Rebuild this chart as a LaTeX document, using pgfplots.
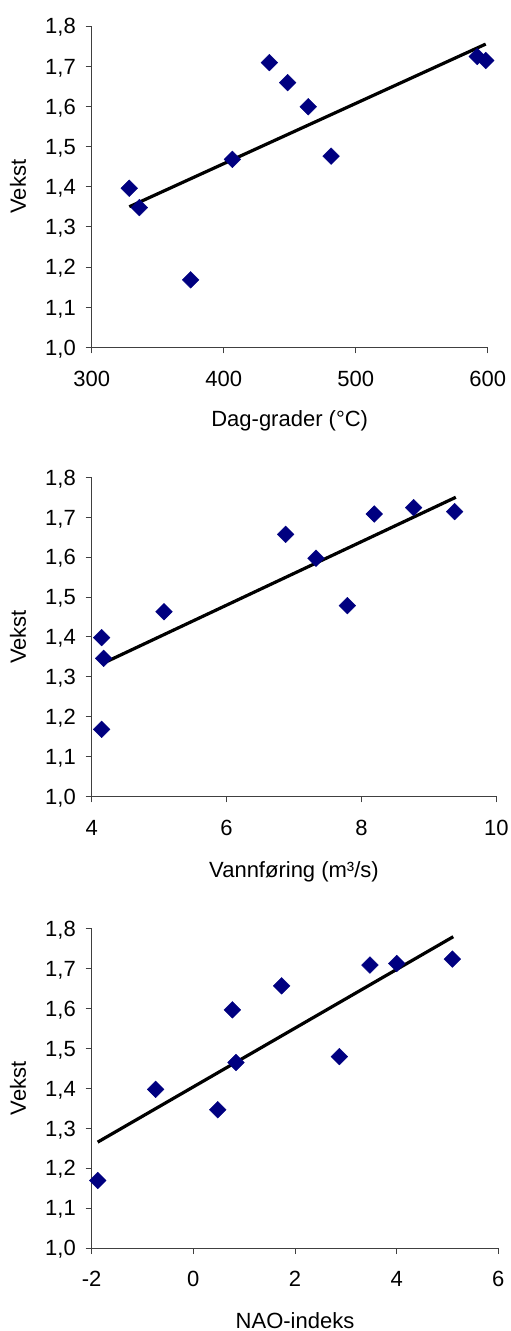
\documentclass[border=0pt]{standalone}
\usepackage{fontspec}
\setmainfont{Liberation Sans}
\usepackage{pgfplots}
\pgfplotsset{compat=1.18}
\definecolor{navy}{HTML}{000080}

\pgfplotsset{
  vekst/.style={
    scale only axis, anchor=south west, clip=false,
    axis lines=left, axis line style={-, line width=0.8pt, black!75},
    tick align=outside, major tick length=6pt,
    tick style={line width=0.8pt, black!75},
    ymin=1.0, ymax=1.8,
    ytick={1.0,1.1,1.2,1.3,1.4,1.5,1.6,1.7,1.8},
    yticklabels={{1,0},{1,1},{1,2},{1,3},{1,4},{1,5},{1,6},{1,7},{1,8}},
    tick label style={font=\fontsize{22}{26}\selectfont, inner sep=0pt},
    yticklabel style={anchor=base east, xshift=-9.7pt, yshift=-7.9pt},
    xticklabel style={anchor=north, yshift=-17.4pt},
    label style={font=\fontsize{22}{26}\selectfont},
    ylabel={Vekst},
  },
  pts/.style={only marks, mark=square*, mark size=5.9pt,
    mark options={rotate=45, fill=navy, draw=navy}},
  trend/.style={line width=3.2pt, black},
}

\begin{document}
\begin{tikzpicture}
\useasboundingbox (0,0) rectangle (511pt,-1331pt);

% Dag-grader
\begin{axis}[vekst, at={(91.7pt,-347.3pt)}, width=396pt, height=321.3pt,
  xmin=300, xmax=600, xtick={300,400,500,600}, xticklabels={300,400,500,600},
  xlabel={Dag-grader (°C)},
  x label style={at={(axis description cs:0.5,-0.2303)}, anchor=center},
  y label style={at={(axis description cs:-0.1861,0.5)}, anchor=center}]
\addplot[pts] coordinates {(328.5,1.396) (336.1,1.348) (375.0,1.168) (406.6,1.468) (434.6,1.709)
  (448.5,1.659) (464.1,1.599) (481.3,1.476) (592.1,1.724) (598.5,1.714)};
\addplot[trend] coordinates {(328.5,1.350) (598.5,1.755)};
\end{axis}

% Vannforing
\begin{axis}[vekst, at={(91.7pt,-796.3pt)}, width=404.6pt, height=319pt,
  xmin=4, xmax=10, xtick={4,6,8,10}, xticklabels={4,6,8,10},
  xlabel={Vannføring (m³/s)},
  x label style={at={(axis description cs:0.5,-0.2364)}, anchor=center},
  y label style={at={(axis description cs:-0.1822,0.5)}, anchor=center}]
\addplot[pts] coordinates {(4.148,1.398) (4.178,1.346) (4.148,1.168) (5.072,1.463) (6.876,1.657)
  (7.326,1.597) (7.791,1.478) (8.191,1.708) (8.774,1.724) (9.382,1.714)};
\addplot[trend] coordinates {(4.148,1.332) (9.40,1.750)};
\end{axis}

% NAO
\begin{axis}[vekst, at={(91.7pt,-1248pt)}, width=406.6pt, height=319.7pt,
  xmin=-2, xmax=6, xtick={-2,0,2,4,6}, xticklabels={-2,0,2,4,6},
  xlabel={NAO-indeks},
  x label style={at={(axis description cs:0.5,-0.2274)}, anchor=center},
  y label style={at={(axis description cs:-0.1813,0.5)}, anchor=center}]
\addplot[pts] coordinates {(-1.882,1.169) (-0.741,1.397) (0.479,1.346) (0.767,1.596) (0.839,1.464)
  (1.738,1.656) (2.872,1.479) (3.475,1.708) (4.0,1.712) (5.095,1.723)};
\addplot[trend] coordinates {(-1.882,1.265) (5.114,1.779)};
\end{axis}
\end{tikzpicture}
\end{document}
